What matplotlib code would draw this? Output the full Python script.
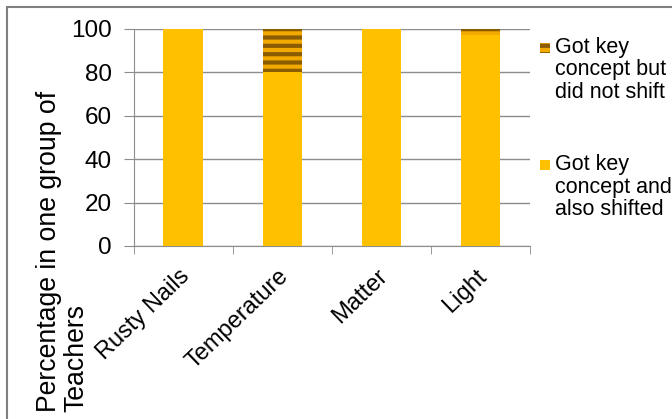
import matplotlib
matplotlib.use('Agg')
import matplotlib.pyplot as plt
from matplotlib.patches import Rectangle
import numpy as np

plt.rcParams['font.family'] = ['Liberation Sans', 'DejaVu Sans']

categories = ['Rusty Nails', 'Temperature', 'Matter', 'Light']
shifted = [100, 80, 100, 97]
not_shifted = [0, 20, 0, 3]
labels = ['Got key\nconcept but\ndid not shift', 'Got key\nconcept and\nalso shifted']
ylabel_lines = ['Percentage in one group of', 'Teachers']

gold = '#FFC000'
stripe_bg = '#F2A900'
brown = '#8C5C00'
grey = '#8C8C8C'

fig = plt.figure(figsize=(6.72, 4.19), dpi=100, facecolor='w')
ax = fig.add_axes([0.199, 0.413, 0.59, 0.518])

x = np.arange(len(categories))
ax.bar(x, shifted, width=0.4, color=gold, zorder=3)
plt.rcParams['hatch.linewidth'] = 3
ax.bar(x, not_shifted, width=0.4, bottom=shifted, color=stripe_bg,
       edgecolor=brown, hatch='--', linewidth=0, zorder=3)

ax.set_xlim(-0.5, len(categories) - 0.5)
ax.set_ylim(0, 100)
ax.set_yticks(range(0, 101, 20))
ax.yaxis.grid(True, color=grey, linewidth=1, zorder=0)
for s in ['top', 'right']:
    ax.spines[s].set_visible(False)
for s in ['left', 'bottom']:
    ax.spines[s].set_color(grey)
ax.tick_params(axis='y', length=7, color=grey, labelsize=17.5, pad=9)

ax.set_xticks(x - 0.05)
ax.set_xticklabels(categories, rotation=44, ha='right', rotation_mode='anchor', fontsize=17)
ax.tick_params(axis='x', length=0, pad=14)
ax.set_xticks(np.arange(-0.5, len(categories)), minor=True)
ax.tick_params(axis='x', which='minor', length=6, color=grey)

# y label as two separate lines, both starting at the bottom
for i, line in enumerate(ylabel_lines):
    fig.text(0.054 + i * 0.041, 0.017, line, rotation=90,
             ha='left', va='bottom', fontsize=19.2)

# legend drawn by hand so the marker sits on the first line
for i, (lab, fc, hatch) in enumerate([(labels[0], stripe_bg, '--'), (labels[1], gold, None)]):
    ytop = 0.9 - i * 0.28
    fig.patches.append(Rectangle((0.804, ytop - 0.026), 0.015, 0.023, transform=fig.transFigure,
                                 facecolor=fc, edgecolor=brown if hatch else 'none',
                                 hatch=hatch, linewidth=0, figure=fig))
    fig.text(0.826, ytop + 0.012, lab, ha='left', va='top', fontsize=15.5, linespacing=1.1)

fig.patches.append(Rectangle((0.011, -0.05), 1.05, 1.033, transform=fig.transFigure,
                             facecolor='none', edgecolor='#7F7F7F', linewidth=1.5, figure=fig))

fig.savefig('out.png', dpi=100, facecolor='w')
